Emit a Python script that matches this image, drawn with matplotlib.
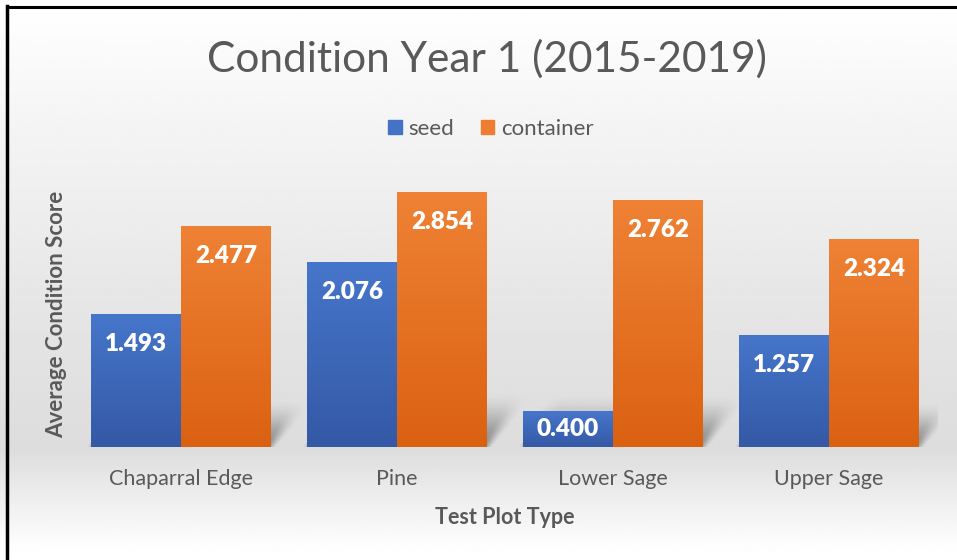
import numpy as np
import matplotlib.pyplot as plt
from matplotlib.colors import LinearSegmentedColormap
from matplotlib.patches import Rectangle
from matplotlib.lines import Line2D

# data
categories = ["Chaparral Edge", "Pine", "Lower Sage", "Upper Sage"]
seed = [1.493, 2.076, 0.400, 1.257]
container = [2.477, 2.854, 2.762, 2.324]
series_names = ["seed", "container"]

W, H = 957, 560
fig = plt.figure(figsize=(W / 100, H / 100), dpi=100)
text_col = "#595959"
plt.rcParams['font.family'] = ['Lato', 'DejaVu Sans']

# background gradient: white top, light gray near the baseline, back to white at bottom
bg = fig.add_axes([0, 0, 1, 1], zorder=0)
bg.axis('off')
yy = np.linspace(0, 1, 300)  # 0 = top
shade = np.interp(yy, [0.0, 0.18, 0.55, 0.8, 0.97, 1.0],
                  [1.0, 0.965, 0.9, 0.865, 0.99, 1.0])
bg.imshow(np.tile(shade[:, None], (1, 2)), cmap='gray', vmin=0, vmax=1,
          aspect='auto', extent=[0, 1, 0, 1], interpolation='bilinear')
bg.set_xlim(0, 1)
bg.set_ylim(0, 1)

# frame edges (left + top only, screenshot is cropped)
fig.add_artist(Line2D([7 / W, 7 / W], [0, 1 - 6 / H], color='black', lw=2.5))
fig.add_artist(Line2D([7 / W, 1], [1 - 6.5 / H, 1 - 6.5 / H], color='black', lw=2.2))

ax = fig.add_axes([73 / W, 113 / H, (937 - 73) / W, 290 / H], zorder=1)
ax.patch.set_alpha(0)
ymax = 290 / 89.3

x = np.arange(len(categories))
bw = 90 / 216

blue_cmap = LinearSegmentedColormap.from_list("b", ["#3459a5", "#4676cb"])
orange_cmap = LinearSegmentedColormap.from_list("o", ["#db6112", "#ef8235"])

# soft perspective shadow behind each pair of bars
def smooth(t):
    t = np.clip(t, 0, 1)
    return t * t * (3 - 2 * t)

gx = np.linspace(-0.5, 3.5, 900)
gy = np.linspace(0, 1.0, 200)
GX, GY = np.meshgrid(gx, gy)
dark = np.zeros_like(GX)
for i in range(len(categories)):
    v = max(seed[i], container[i])
    h = 0.22 * v
    dx = 0.17 * v / 2.8
    shift = dx * GY / h
    left = x[i] - bw + shift
    right = x[i] + bw + shift
    soft = 0.05 + 0.1 * GY / h
    inside = smooth((GX - left) / soft + 0.5) * smooth((right - GX) / soft + 0.5)
    fade = smooth(1 - GY / h)
    dark = np.maximum(dark, inside * fade)
rgba = np.zeros(GX.shape + (4,))
rgba[..., 3] = 0.36 * dark
ax.imshow(rgba, origin='lower', aspect='auto', extent=[-0.5, 3.5, 0, 1.0],
          interpolation='bilinear', zorder=1)

grad = np.linspace(0, 1, 256)[:, None]
for vals, offs, cmap in [(seed, -bw / 2, blue_cmap), (container, bw / 2, orange_cmap)]:
    bars = ax.bar(x + offs, vals, width=bw, color='none', edgecolor='none', zorder=2)
    for b, v in zip(bars, vals):
        im = ax.imshow(grad, cmap=cmap, aspect='auto', origin='lower', zorder=2,
                       extent=[b.get_x(), b.get_x() + b.get_width(), 0, v])
        im.set_clip_path(b)
        ty = max(v - 30 / 89.3, v / 2)
        ax.text(b.get_x() + b.get_width() / 2, ty, f"{v:.3f}", ha='center', va='center',
                color='white', fontsize=17.5, fontweight='heavy', zorder=3)

ax.set_xlim(-0.5, 3.5)
ax.set_ylim(0, ymax)
ax.set_xticks(x)
ax.set_xticklabels(categories, fontsize=15.5, color=text_col)
ax.tick_params(axis='x', length=0, pad=16)
ax.set_yticks([])
for s in ax.spines.values():
    s.set_visible(False)

ax.set_xlabel("Test Plot Type", fontsize=15.5, fontweight='bold', color=text_col, labelpad=13)
fig.text(57 / W, 1 - 314 / H, "Average Condition Score", rotation=90, ha='center', va='center',
         fontsize=16, fontweight='bold', color=text_col)

fig.text(487 / W, 1 - 59 / H, "Condition Year 1 (2015-2019)", ha='center', va='center',
         fontsize=30.5, color=text_col)

# legend
handles = [Rectangle((0, 0), 1, 1, color="#4472c4"), Rectangle((0, 0), 1, 1, color="#ed7d31")]
fig.legend(handles, series_names, loc='center', bbox_to_anchor=(491 / W, 1 - 129 / H),
           ncol=2, frameon=False, fontsize=16, labelcolor=text_col, handlelength=0.6,
           handleheight=0.6, handletextpad=0.3, columnspacing=1.2)

fig.savefig("out.png", dpi=100)
